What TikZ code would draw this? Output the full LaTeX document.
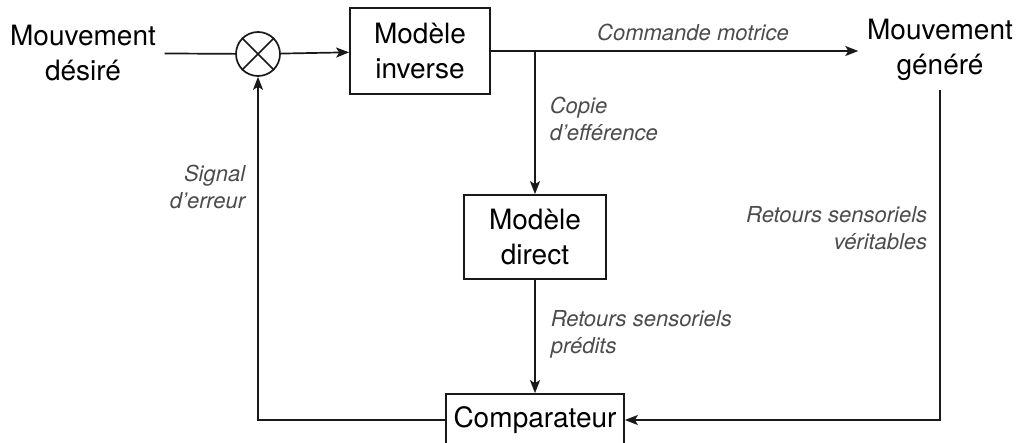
\documentclass[tikz,border=0pt]{standalone}
\usepackage{fontspec}
\setmainfont{TeX Gyre Heros}
\usetikzlibrary{positioning,arrows.meta}

\def\mainfont{\fontsize{14pt}{17.5pt}\selectfont}
\def\annotfont{\fontsize{11pt}{13.5pt}\selectfont\itshape}

\begin{document}
\begin{tikzpicture}[x=0.5pt,y=-0.5pt,->,>={Stealth[length=6.5pt,width=5pt,inset=1.5pt]},line width=0.85pt,draw=black!90]
    \tikzstyle{block}=[draw,rectangle,font=\mainfont,align=center,inner sep=0pt]
    \tikzstyle{signal}=[font=\mainfont,align=center,inner sep=4pt]
    \tikzstyle{annot}=[font=\annotfont,text=black!70,inner sep=0pt]
    \tikzstyle{mixer}=[draw,circle,minimum size=22pt,inner sep=0pt]

    \useasboundingbox (0,0) rectangle (1022,443);

    % Inputs and outputs
    \node[signal] (desired) at (83,53) {Mouvement\\désiré};
    \node[signal] (generated) at (940,50) {Mouvement\\généré};

    % Summing point
    \node[mixer] (sum) at (258,54) {};
    \draw[-] (sum.45) -- (sum.225);
    \draw[-] (sum.135) -- (sum.315);

    % Models and comparator
    \node[block,minimum width=70pt,minimum height=43pt] (inverse) at (420,51) {Modèle\\inverse};
    \node[block,minimum width=71pt,minimum height=42pt] (direct) at (535,237) {Modèle\\direct};
    \node[block,minimum width=89pt,minimum height=26pt] (comp) at (535,420) {Comparateur};

    % Forward path
    \path[-] (desired) edge (sum);
    \path (sum) edge (inverse);
    \draw (inverse.east) -- (generated.west |- inverse.east);

    % Efference copy and prediction
    \coordinate (branch) at (direct.north |- inverse.east);
    \path (branch) edge (direct);
    \path (direct) edge (comp);

    % Feedback loops
    \draw (comp.west) -| (sum.south);
    \draw (generated.south) |- (comp.east);

    % Annotate the signals
    \node[annot] at (693,32) {Commande motrice};
    \node[annot,anchor=west,align=left] at (549,119) {Copie\\d’efférence};
    \node[annot,anchor=east,align=right] at (246,187) {Signal\\d’erreur};
    \node[annot,anchor=west,align=left] at (550,334) {Retours sensoriels\\prédits};
    \node[annot,anchor=east,align=right] at (928,228) {Retours sensoriels\\véritables};
\end{tikzpicture}
\end{document}
